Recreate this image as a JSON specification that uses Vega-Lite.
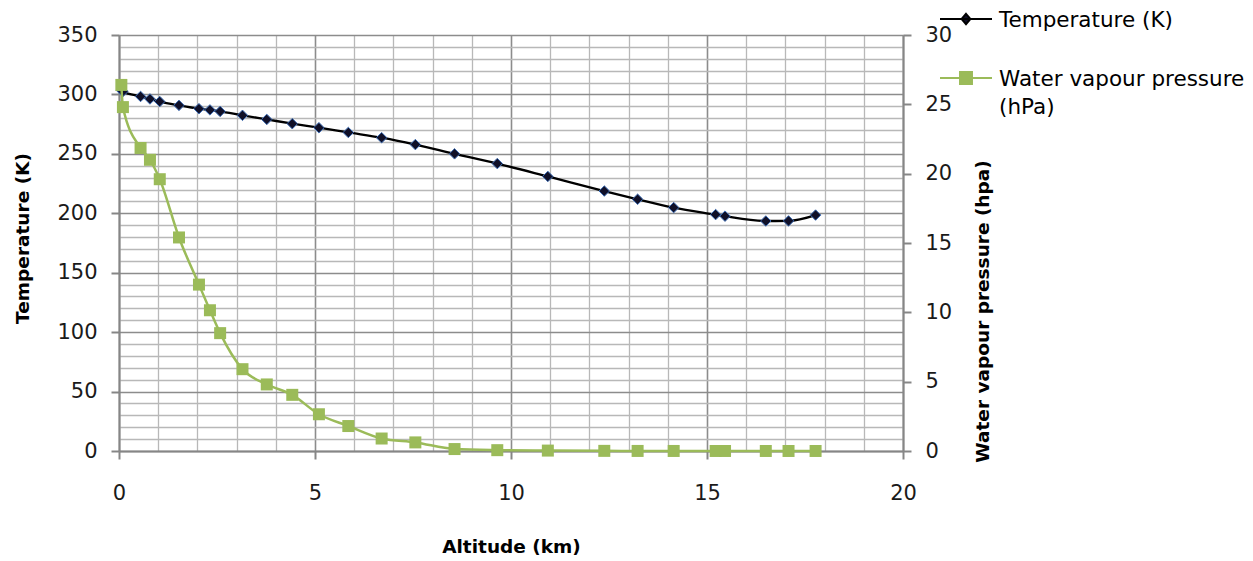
{
  "$schema": "https://vega.github.io/schema/vega-lite/v6.json",
  "width": 784,
  "height": 416,
  "autosize": {"type": "none"},
  "padding": {"left": 119, "top": 35, "right": 350, "bottom": 110},
  "background": "white",
  "config": {
    "view": {"stroke": null},
    "font": "DejaVu Sans",
    "axis": {
      "domainColor": "#868686",
      "domainWidth": 2,
      "tickColor": "#868686",
      "tickWidth": 2,
      "tickSize": 8,
      "labelFont": "DejaVu Sans",
      "labelFontSize": 21,
      "labelColor": "#1a1a1a",
      "titleFont": "DejaVu Sans",
      "titleFontSize": 18.5,
      "titleFontWeight": "bold",
      "titleColor": "#000000",
      "labelOverlap": false,
      "labelFlush": false,
      "labelBound": false
    }
  },
  "data": {
    "values": [
      {"alt": 0.06, "T": 303.5, "P": 26.4},
      {"alt": 0.1, "T": 302.5, "P": 24.8},
      {"alt": 0.55, "T": 298.3, "P": 21.85},
      {"alt": 0.79, "T": 296.2, "P": 21.0},
      {"alt": 1.04, "T": 294.0, "P": 19.6},
      {"alt": 1.53, "T": 290.8, "P": 15.4},
      {"alt": 2.04, "T": 288.0, "P": 12.0},
      {"alt": 2.32, "T": 287.0, "P": 10.15},
      {"alt": 2.58, "T": 285.7, "P": 8.5},
      {"alt": 3.15, "T": 282.4, "P": 5.9},
      {"alt": 3.77, "T": 279.0, "P": 4.8},
      {"alt": 4.42, "T": 275.4, "P": 4.05},
      {"alt": 5.1, "T": 272.0, "P": 2.65},
      {"alt": 5.85, "T": 268.0, "P": 1.8},
      {"alt": 6.7, "T": 263.6, "P": 0.9},
      {"alt": 7.56, "T": 257.8, "P": 0.62},
      {"alt": 8.56, "T": 250.0, "P": 0.14},
      {"alt": 9.65, "T": 241.8, "P": 0.06},
      {"alt": 10.94, "T": 231.0, "P": 0.03},
      {"alt": 12.38, "T": 218.7, "P": 0.01},
      {"alt": 13.23, "T": 211.8, "P": 0.005},
      {"alt": 14.15, "T": 204.8, "P": 0.003},
      {"alt": 15.22, "T": 198.9, "P": 0.002},
      {"alt": 15.46, "T": 197.6, "P": 0.002},
      {"alt": 16.5, "T": 193.5, "P": 0.002},
      {"alt": 17.08, "T": 193.6, "P": 0.002},
      {"alt": 17.77, "T": 198.5, "P": 0.002}
    ]
  },
  "encoding": {
    "x": {
      "field": "alt",
      "type": "quantitative",
      "title": "Altitude (km)",
      "scale": {"domain": [0, 20], "nice": false, "zero": true},
      "axis": {
        "values": [0,1,2,3,4,5,6,7,8,9,10,11,12,13,14,15,16,17,18,19,20],
        "labelExpr": "datum.value % 5 === 0 ? datum.label : ''",
        "grid": true,
        "gridColor": {"condition": {"test": "datum.value % 5 === 0", "value": "#8c8c8c"}, "value": "#b8b8b8"},
        "gridWidth": {"condition": {"test": "datum.value % 5 === 0", "value": 1.6}, "value": 1.3},
        "tickOpacity": {"condition": {"test": "datum.value % 5 === 0", "value": 1}, "value": 0},
        "labelPadding": 23,
        "titleY": 95,
        "titleBaseline": "middle"
      }
    }
  },
  "layer": [
    {
      "encoding": {
        "y": {
          "field": "T",
          "type": "quantitative",
          "title": "Temperature (K)",
          "scale": {"domain": [0, 350], "nice": false, "zero": true},
          "axis": {
            "orient": "left",
            "values": [0,10,20,30,40,50,60,70,80,90,100,110,120,130,140,150,160,170,180,190,200,210,220,230,240,250,260,270,280,290,300,310,320,330,340,350],
            "labelExpr": "datum.value % 50 === 0 ? datum.label : ''",
            "grid": true,
            "gridColor": {"condition": {"test": "datum.value % 50 === 0", "value": "#8c8c8c"}, "value": "#b8b8b8"},
            "gridWidth": {"condition": {"test": "datum.value % 50 === 0", "value": 1.6}, "value": 1.3},
            "tickOpacity": {"condition": {"test": "datum.value % 50 === 0", "value": 1}, "value": 0},
            "labelPadding": 14,
            "titleX": -97,
            "titleY": 203,
            "titleAngle": 270,
            "titleAlign": "center",
            "titleBaseline": "middle"
          }
        },
        "color": {
          "datum": "Temperature (K)",
          "type": "nominal",
          "scale": {"domain": ["Temperature (K)", "Water vapour pressure (hPa)"], "range": ["#000000", "#9BBB59"]},
          "legend": {
            "orient": "none",
            "legendX": 820,
            "legendY": -43,
            "title": null,
            "padding": 0,
            "symbolSize": 2704,
            "labelOffset": 6,
            "labelFont": "DejaVu Sans",
            "labelFontSize": 21.5,
            "labelColor": "#000000",
            "labelLimit": 400,
            "rowPadding": 20,
            "labelBaseline": "alphabetic",
            "labelExpr": "datum.label === 'Water vapour pressure (hPa)' ? ['Water vapour pressure', '(hPa)'] : datum.label",
            "encode": {
              "symbols": {
                "update": {
                  "shape": {"signal": "datum.value === 'Temperature (K)' ? 'M-1,0H1M0,-0.2L0.17,0L0,0.2L-0.17,0Z' : 'M-1,0H1M-0.23,-0.23H0.23V0.23H-0.23Z'"},
                  "fill": {"signal": "datum.value === 'Temperature (K)' ? '#101028' : '#9BBB59'"},
                  "stroke": {"signal": "datum.value === 'Temperature (K)' ? '#000000' : '#9BBB59'"},
                  "strokeWidth": {"value": 2},
                  "opacity": {"value": 1}
                }
              },
              "labels": {
                "update": {
                  "dy": {"value": 7.5},
                  "lineHeight": {"value": 28}
                }
              }
            }
          }
        }
      },
      "layer": [
        {"mark": {"type": "line", "interpolate": "monotone", "strokeWidth": 2.3}},
        {
          "mark": {"type": "point", "shape": "diamond", "filled": true, "size": 110, "stroke": "#3d6db5", "strokeWidth": 1, "opacity": 1},
          "encoding": {"color": {"value": "#101028"}}
        }
      ]
    },
    {
      "encoding": {
        "y": {
          "field": "P",
          "type": "quantitative",
          "title": "Water vapour pressure (hpa)",
          "scale": {"domain": [0, 30], "nice": false, "zero": true},
          "axis": {
            "orient": "right",
            "values": [0, 5, 10, 15, 20, 25, 30],
            "grid": false,
            "labelPadding": 14,
            "titleX": 79,
            "titleY": 276,
            "titleAngle": 270,
            "titleAlign": "center",
            "titleBaseline": "middle"
          }
        },
        "color": {"datum": "Water vapour pressure (hPa)", "type": "nominal"}
      },
      "layer": [
        {"mark": {"type": "line", "interpolate": "monotone", "strokeWidth": 2.5}},
        {
          "mark": {"type": "point", "shape": "square", "filled": true, "size": 144, "opacity": 1},
          "encoding": {"color": {"value": "#9BBB59"}}
        }
      ]
    }
  ],
  "resolve": {"scale": {"y": "independent"}}
}
